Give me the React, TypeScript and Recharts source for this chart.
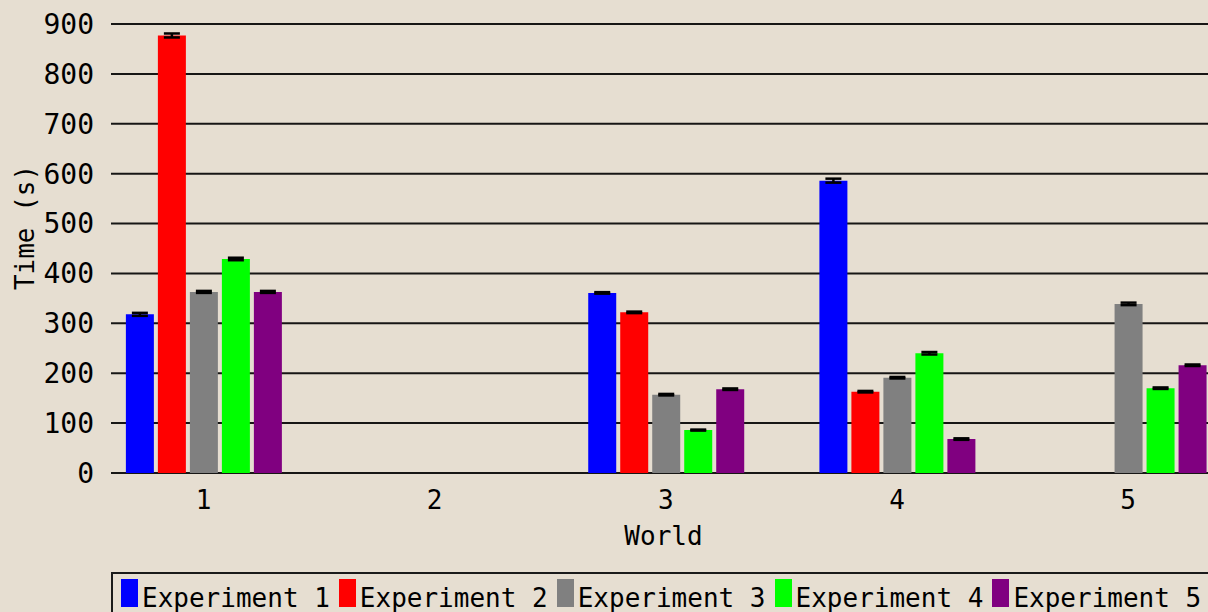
import React from 'react';
import { BarChart, Bar, XAxis, YAxis, CartesianGrid, ErrorBar, Legend } from 'recharts';

const worlds = [1, 2, 3, 4, 5];

const exp1 = [318, null, 361, 586, null];
const exp2 = [877, null, 322, 163, null];
const exp3 = [363, null, 157, 191, 339];
const exp4 = [429, null, 86, 240, 170];
const exp5 = [363, null, 168, 68, 216];

const exp1Err = [3, null, 1.5, 4, null];
const exp2Err = [4, null, 1.5, 1.5, null];
const exp3Err = [2, null, 1.5, 1.5, 2.5];
const exp4Err = [2.5, null, 1, 2.5, 1.5];
const exp5Err = [2, null, 1.5, 1.5, 1.5];

const yTicks = [0, 100, 200, 300, 400, 500, 600, 700, 800, 900];

const seriesNames = ['Experiment 1', 'Experiment 2', 'Experiment 3', 'Experiment 4', 'Experiment 5'];
const seriesColors = ['#0000ff', '#ff0000', '#808080', '#00ff00', '#800080'];

const data = worlds.map((w, i) => ({
  world: w,
  e1: exp1[i], e1Err: exp1Err[i],
  e2: exp2[i], e2Err: exp2Err[i],
  e3: exp3[i], e3Err: exp3Err[i],
  e4: exp4[i], e4Err: exp4Err[i],
  e5: exp5[i], e5Err: exp5Err[i],
}));

const FONT = '"DejaVu Sans Mono", monospace';

const YLabel = ({ viewBox }: any) => {
  const cx = viewBox.x + 25;
  const cy = viewBox.y + viewBox.height / 2 - 21;
  return (
    <text
      x={cx}
      y={cy}
      transform={`rotate(-90 ${cx} ${cy})`}
      textAnchor="middle"
      dominantBaseline="central"
      fontSize={26}
      fontFamily={FONT}
      fill="#000"
    >
      Time (s)
    </text>
  );
};

const renderLegend = () => (
  <div
    style={{
      border: '2px solid #1a1a1a',
      boxSizing: 'border-box',
      height: 60,
      display: 'flex',
      alignItems: 'flex-start',
      padding: '5px 0 0 8px',
      fontFamily: FONT,
      fontSize: 26,
      color: '#000',
    }}
  >
    {seriesNames.map((name, i) => (
      <div key={name} style={{ display: 'flex', alignItems: 'baseline', marginRight: 9, whiteSpace: 'nowrap' }}>
        <span style={{ display: 'inline-block', width: 17, height: 28, background: seriesColors[i], marginRight: 4 }} />
        <span style={{ lineHeight: '28px' }}>{name}</span>
      </div>
    ))}
  </div>
);

export default function App() {
  const keys = ['e1', 'e2', 'e3', 'e4', 'e5'];
  return (
    <div
      style={{
        position: 'absolute',
        left: 0,
        top: 0,
        width: 1208,
        height: 612,
        overflow: 'hidden',
        background: '#e6ded1',
      }}
    >
      <BarChart
        width={1216}
        height={640}
        data={data}
        margin={{ top: 24, right: 0, left: 0, bottom: 0 }}
        barSize={28}
        barGap={4}
        style={{ fontFamily: FONT }}
      >
        <CartesianGrid horizontal vertical={false} stroke="#000" strokeWidth={2} strokeOpacity={0.9} />
        <XAxis
          dataKey="world"
          type="number"
          domain={[0.6, 5.38]}
          ticks={worlds}
          allowDataOverflow
          axisLine={false}
          tickLine={false}
          tickMargin={12}
          height={123}
          tick={{ fontSize: 26, fill: '#000', fontFamily: FONT }}
          label={{ value: 'World', position: 'insideTop', offset: 54, fontSize: 26, fill: '#000', fontFamily: FONT }}
        />
        <YAxis
          domain={[0, 900]}
          ticks={yTicks}
          width={111}
          axisLine={false}
          tickLine={false}
          tickMargin={11}
          tick={{ fontSize: 28, fill: '#000', fontFamily: FONT }}
          label={<YLabel />}
        />
        <Legend
          verticalAlign="bottom"
          height={44}
          content={renderLegend}
          wrapperStyle={{ top: 572, bottom: 'auto', left: 111, width: 1105 }}
        />
        {keys.map((k, i) => (
          <Bar key={k} dataKey={k} name={seriesNames[i]} fill={seriesColors[i]} isAnimationActive={false}>
            <ErrorBar dataKey={`${k}Err`} width={8} stroke="#000" strokeWidth={2.5} direction="y" isAnimationActive={false} />
          </Bar>
        ))}
      </BarChart>
    </div>
  );
}
